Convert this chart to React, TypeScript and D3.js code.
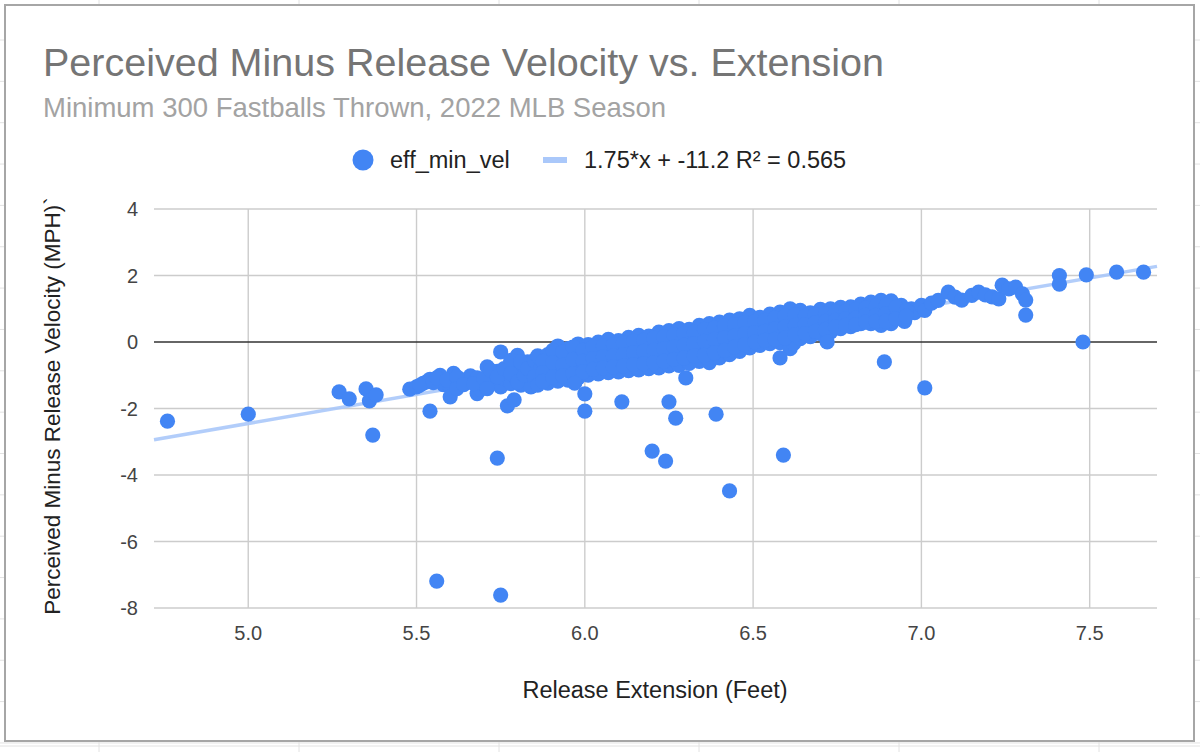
import React from "react";
import * as d3 from "d3";

// ---- Data ----
// [release extension (ft), perceived minus release velocity (mph)]
const lowOutliers: [number, number][] = [
  [4.76, -2.38], [5.0, -2.17], [5.27, -1.5], [5.3, -1.71], [5.35, -1.41], [5.36, -1.77],
  [5.38, -1.59], [5.37, -2.8], [5.56, -7.19], [5.75, -7.61], [5.74, -3.49], [5.54, -2.08],
  [6.0, -1.56], [6.0, -2.08], [5.97, -1.24], [6.11, -1.8], [6.2, -3.28], [6.24, -3.58],
  [6.25, -1.8], [6.27, -2.29], [6.3, -1.08], [6.39, -2.17], [6.43, -4.48], [6.59, -3.4],
  [6.58, -0.48], [6.72, 0.0], [6.89, -0.6], [7.01, -1.38], [7.48, 0.0], [7.31, 0.81],
];

const leftBand: [number, number][] = [
  [5.48, -1.42], [5.5, -1.35], [5.52, -1.24], [5.53, -1.2], [5.54, -1.12], [5.57, -1.0],
  [5.58, -1.28], [5.6, -1.35], [5.6, -1.65], [5.61, -0.94], [5.63, -1.12], [5.65, -1.2],
  [5.66, -1.02], [5.68, -1.08], [5.68, -1.55], [5.69, -1.42], [5.7, -1.28], [5.71, -0.75],
  [5.72, -1.0], [5.73, -1.18], [5.74, -0.88], [5.75, -1.35], [5.75, -0.3], [5.76, -1.1],
  [5.77, -0.93], [5.77, -1.92], [5.78, -1.25], [5.79, -1.74], [5.79, -0.7], [5.8, -0.4],
  [5.8, -1.05], [5.81, -1.3], [5.82, -0.85], [5.83, -0.6], [5.83, -1.1], [5.84, -1.35],
  [5.84, -0.63],
  [5.51, -1.3], [5.55, -1.22], [5.56, -1.08], [5.59, -1.15], [5.62, -1.05], [5.62, -1.4],
  [5.64, -1.28], [5.67, -1.25], [5.7, -1.1], [5.71, -1.4], [5.72, -0.85], [5.74, -1.05],
  [5.76, -0.8], [5.78, -0.55], [5.78, -0.95], [5.8, -1.2], [5.81, -0.6], [5.82, -1.0],
  [5.83, -0.8], [5.85, -0.55],
];

const mainBand: [number, number][] = [
  [5.86, -0.42], [5.87, -0.78], [5.85, -1.05], [5.86, -1.3],
  [5.89, -0.38], [5.88, -0.7], [5.9, -1.0], [5.89, -1.24],
  [5.92, -0.12], [5.93, -0.48], [5.91, -0.85], [5.92, -1.18],
  [5.95, -0.2], [5.96, -0.55], [5.94, -0.88], [5.95, -1.15],
  [5.98, -0.06], [5.97, -0.4], [5.99, -0.75], [5.98, -1.08],
  [6.01, -0.08], [6.02, -0.42], [6.0, -0.72], [6.01, -1.0],
  [6.04, 0.0], [6.03, -0.3], [6.05, -0.62], [6.04, -0.96],
  [6.07, 0.08], [6.08, -0.25], [6.06, -0.6], [6.07, -0.92],
  [6.1, 0.04], [6.09, -0.28], [6.11, -0.58], [6.1, -0.9],
  [6.13, 0.14], [6.14, -0.18], [6.12, -0.52], [6.13, -0.86],
  [6.16, 0.2], [6.15, -0.12], [6.17, -0.48], [6.16, -0.84],
  [6.19, 0.18], [6.2, -0.1], [6.18, -0.45], [6.19, -0.8],
  [6.22, 0.3], [6.21, -0.02], [6.23, -0.4], [6.22, -0.78],
  [6.25, 0.34], [6.26, 0.02], [6.24, -0.35], [6.25, -0.72],
  [6.28, 0.4], [6.27, 0.08], [6.29, -0.3], [6.28, -0.7],
  [6.31, 0.38], [6.32, 0.1], [6.3, -0.25], [6.31, -0.64],
  [6.34, 0.5], [6.33, 0.18], [6.35, -0.18], [6.34, -0.58],
  [6.37, 0.55], [6.38, 0.22], [6.36, -0.15], [6.37, -0.62],
  [6.4, 0.6], [6.39, 0.28], [6.41, -0.1], [6.4, -0.48],
  [6.43, 0.66], [6.44, 0.32], [6.42, -0.05], [6.43, -0.38],
  [6.46, 0.7], [6.45, 0.38], [6.47, 0.02], [6.46, -0.28],
  [6.49, 0.8], [6.5, 0.45], [6.48, 0.1], [6.49, -0.18],
  [6.52, 0.74], [6.51, 0.42], [6.53, 0.12], [6.52, -0.1],
  [6.55, 0.84], [6.56, 0.52], [6.54, 0.2], [6.55, -0.05],
  [6.58, 0.9], [6.57, 0.58], [6.59, 0.25], [6.58, -0.02],
  [6.61, 1.0], [6.62, 0.65], [6.6, 0.3], [6.61, -0.2], [6.62, -0.05],
  [6.64, 0.95], [6.63, 0.62], [6.65, 0.35], [6.64, 0.1],
  [6.67, 0.88], [6.68, 0.6], [6.66, 0.35], [6.67, 0.16],
  [6.7, 0.98], [6.69, 0.7], [6.71, 0.45], [6.7, 0.25],
  [6.73, 1.0], [6.74, 0.72], [6.72, 0.48], [6.73, 0.3],
  [6.76, 1.04], [6.75, 0.78], [6.77, 0.55], [6.76, 0.4],
  [6.79, 1.06], [6.8, 0.8], [6.78, 0.58], [6.79, 0.46],
  [6.82, 1.14], [6.81, 0.88], [6.83, 0.62], [6.82, 0.55],
  [6.85, 1.2], [6.86, 0.9], [6.84, 0.68], [6.85, 0.55],
  [6.88, 1.25], [6.87, 0.95], [6.89, 0.7], [6.88, 0.5],
  [6.91, 1.24], [6.92, 0.92], [6.9, 0.75], [6.91, 0.55],
  [6.94, 1.1], [6.93, 0.85], [6.95, 0.62],
  [6.97, 1.0], [6.98, 0.88], [7.0, 1.1], [7.01, 0.95],
];

const fillBand: [number, number][] = [
  [5.875, -0.58], [5.875, -0.92], [5.875, -1.18],
  [5.905, -0.25], [5.905, -0.62], [5.905, -1.05],
  [5.935, -0.3], [5.935, -0.7], [5.935, -1.02],
  [5.965, -0.15], [5.965, -0.52], [5.965, -0.95],
  [5.995, -0.25], [5.995, -0.58], [5.995, -0.9],
  [6.025, -0.15], [6.025, -0.5], [6.025, -0.82],
  [6.055, -0.12], [6.055, -0.45], [6.055, -0.78],
  [6.085, -0.08], [6.085, -0.42], [6.085, -0.75],
  [6.115, -0.02], [6.115, -0.38], [6.115, -0.72],
  [6.145, 0.02], [6.145, -0.32], [6.145, -0.68],
  [6.175, 0.05], [6.175, -0.28], [6.175, -0.65],
  [6.205, 0.12], [6.205, -0.25], [6.205, -0.62],
  [6.235, 0.15], [6.235, -0.2], [6.235, -0.58],
  [6.265, 0.22], [6.265, -0.15], [6.265, -0.52],
  [6.295, 0.25], [6.295, -0.1], [6.295, -0.48],
  [6.325, 0.3], [6.325, -0.05], [6.325, -0.42],
  [6.355, 0.38], [6.355, 0.02], [6.355, -0.4],
  [6.385, 0.42], [6.385, 0.08], [6.385, -0.32],
  [6.415, 0.48], [6.415, 0.12], [6.415, -0.25],
  [6.445, 0.52], [6.445, 0.18], [6.445, -0.15],
  [6.475, 0.58], [6.475, 0.25], [6.475, -0.08],
  [6.505, 0.62], [6.505, 0.28], [6.505, 0.0],
  [6.535, 0.65], [6.535, 0.32], [6.535, 0.05],
  [6.565, 0.72], [6.565, 0.4], [6.565, 0.08],
  [6.595, 0.78], [6.595, 0.45], [6.595, 0.12],
  [6.625, 0.82], [6.625, 0.5], [6.625, 0.22],
  [6.655, 0.78], [6.655, 0.52], [6.655, 0.25],
  [6.685, 0.82], [6.685, 0.58], [6.685, 0.32],
  [6.715, 0.85], [6.715, 0.62], [6.715, 0.38],
  [6.745, 0.9], [6.745, 0.65], [6.745, 0.45],
  [6.775, 0.92], [6.775, 0.7], [6.775, 0.5],
  [6.805, 0.98], [6.805, 0.72], [6.805, 0.52],
  [6.835, 1.02], [6.835, 0.8], [6.835, 0.6],
  [6.865, 1.08], [6.865, 0.8], [6.865, 0.62],
  [6.895, 1.1], [6.895, 0.85], [6.895, 0.62],
  [6.925, 1.05], [6.925, 0.7], [6.955, 0.95], [6.955, 0.78],
];

const rightBand: [number, number][] = [
  [7.03, 1.17], [7.05, 1.25], [7.08, 1.5], [7.1, 1.35], [7.12, 1.26], [7.15, 1.4],
  [7.17, 1.5], [7.19, 1.42], [7.21, 1.36], [7.23, 1.3], [7.24, 1.71], [7.26, 1.6],
  [7.28, 1.65], [7.3, 1.45], [7.31, 1.26], [7.41, 2.0], [7.41, 1.74], [7.49, 2.02],
  [7.58, 2.1], [7.66, 2.1],
];

const trendSlope = 1.75;
const trendIntercept = -11.2;
const seriesName = "eff_min_vel";
const trendLabel = "1.75*x + -11.2 R² = 0.565";
const xTicks = [5.0, 5.5, 6.0, 6.5, 7.0, 7.5];
const yTicks = [-8, -6, -4, -2, 0, 2, 4];
const xDomain: [number, number] = [4.72, 7.7];
const yDomain: [number, number] = [-8, 4];

const titleText = "Perceived Minus Release Velocity vs. Extension";
const subtitleText = "Minimum 300 Fastballs Thrown, 2022 MLB Season";
const xTitle = "Release Extension (Feet)";
const yTitle = "Perceived Minus Release Velocity (MPH)`";

const W = 1200;
const H = 752;
const FONT = "'Liberation Sans', Arial, Helvetica, sans-serif";
const plot = { left: 154, right: 1157, top: 209, bottom: 608 };

export default function App() {
  const allPoints = [...leftBand, ...mainBand, ...fillBand, ...rightBand, ...lowOutliers];
  const x = d3.scaleLinear().domain(xDomain).range([plot.left, plot.right]);
  const y = d3.scaleLinear().domain(yDomain).range([plot.bottom, plot.top]);
  const trend = d3
    .line<number>()
    .x((d) => x(d))
    .y((d) => y(trendSlope * d + trendIntercept));
  const trendPath = trend(xDomain) || "";

  const sheetCols = d3.range(99, W, 200);
  const sheetRows = d3.range(40, H, 41.35);

  return (
    <svg
      width={W}
      height={H}
      style={{ position: "absolute", left: 0, top: 0, background: "#fff" }}
      fontFamily={FONT}
    >
      {/* spreadsheet grid behind the chart */}
      {sheetCols.map((c) => (
        <line key={"c" + c} x1={c} x2={c} y1={0} y2={H} stroke="#e2e2e2" strokeWidth={1} />
      ))}
      {sheetRows.map((r) => (
        <line key={"r" + r} x1={0} x2={W} y1={r} y2={r} stroke="#e2e2e2" strokeWidth={1} />
      ))}
      <line x1={0} x2={W} y1={746} y2={746} stroke="#e2e2e2" strokeWidth={1} />

      {/* chart box */}
      <rect x={5} y={5} width={1189} height={736} fill="#fff" stroke="#a6a6a6" strokeWidth={2} />

      {/* titles */}
      <text x={43} y={76} fontSize={39.5} fill="#757575">
        {titleText}
      </text>
      <text x={43} y={117} fontSize={27.5} fill="#a3a3a3">
        {subtitleText}
      </text>

      {/* legend */}
      <circle cx={363} cy={160} r={10.5} fill="#4285f4" />
      <text x={390} y={168} fontSize={23.5} fill="#222">
        {seriesName}
      </text>
      <line x1={543} x2={567} y1={160} y2={160} stroke="#aac8fa" strokeWidth={6} />
      <text x={584} y={168} fontSize={23.5} fill="#222">
        {trendLabel}
      </text>

      {/* gridlines */}
      {yTicks
        .filter((t) => t !== 0)
        .map((t) => (
          <line key={"gy" + t} x1={plot.left} x2={plot.right} y1={y(t)} y2={y(t)} stroke="#cccccc" strokeWidth={1.4} />
        ))}
      {xTicks.map((t) => (
        <line key={"gx" + t} x1={x(t)} x2={x(t)} y1={plot.top} y2={plot.bottom} stroke="#cccccc" strokeWidth={1.4} />
      ))}
      <line x1={plot.left} x2={plot.right} y1={y(0)} y2={y(0)} stroke="#333" strokeWidth={1.5} />

      {/* tick labels */}
      {yTicks.map((t) => (
        <text key={"ly" + t} x={138} y={y(t) + 7} fontSize={20} fill="#444" textAnchor="end">
          {String(t)}
        </text>
      ))}
      {xTicks.map((t) => (
        <text key={"lx" + t} x={x(t)} y={640} fontSize={20} fill="#444" textAnchor="middle">
          {t.toFixed(1)}
        </text>
      ))}

      {/* axis titles */}
      <text x={655} y={698} fontSize={23.5} fill="#222" textAnchor="middle">
        {xTitle}
      </text>
      <text
        transform={`translate(60, 406) rotate(-90)`}
        fontSize={22.5}
        fill="#222"
        textAnchor="middle"
      >
        {yTitle}
      </text>

      {/* trendline */}
      <path d={trendPath} fill="none" stroke="#aac8fa" strokeWidth={3.5} strokeOpacity={0.9} />

      {/* points */}
      {allPoints.map((p, i) => (
        <circle key={i} cx={x(p[0])} cy={y(p[1])} r={7.6} fill="#4285f4" />
      ))}
    </svg>
  );
}
